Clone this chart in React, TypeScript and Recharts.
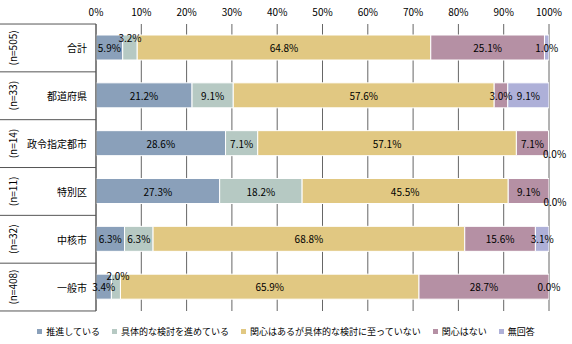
import React from "react";
import { BarChart, Bar, XAxis, YAxis, CartesianGrid, Legend, LabelList } from "recharts";

const categories = ["合計", "都道府県", "政令指定都市", "特別区", "中核市", "一般市"];
const sampleSizes = ["(n=505)", "(n=33)", "(n=14)", "(n=11)", "(n=32)", "(n=408)"];
const seriesNames = [
  "推進している",
  "具体的な検討を進めている",
  "関心はあるが具体的な検討に至っていない",
  "関心はない",
  "無回答",
];
const promoting = [5.9, 21.2, 28.6, 27.3, 6.3, 3.4];
const considering = [3.2, 9.1, 7.1, 18.2, 6.3, 2.0];
const interested = [64.8, 57.6, 57.1, 45.5, 68.8, 65.9];
const notInterested = [25.1, 3.0, 7.1, 9.1, 15.6, 28.7];
const noAnswer = [1.0, 9.1, 0.0, 0.0, 3.1, 0.0];
const xTicks = [0, 10, 20, 30, 40, 50, 60, 70, 80, 90, 100];

const colors = ["#8aa0ba", "#b6c9c3", "#e1c882", "#b590a4", "#aeb0d8"];
const keys = ["s0", "s1", "s2", "s3", "s4"];
const seriesValues = [promoting, considering, interested, notInterested, noAnswer];

const data = categories.map((name, i) => {
  const row: any = { name, n: sampleSizes[i] };
  seriesValues.forEach((vals, s) => {
    row[keys[s]] = vals[i];
  });
  return row;
});

const FONT = "'Noto Sans CJK JP', 'Noto Sans', sans-serif";
const BAND_HALF = 23.9;

// small labels nudged off their segment, as in the original
const labelOffsets: Record<string, [number, number]> = {
  "1-0": [0, -10],
  "1-5": [2, -11],
};

const pct = (v: any) => `${Number(v).toFixed(1)}%`;

const makeLabel = (s: number) => (props: any) => {
  const { x, y, width, height, value, index } = props;
  const [dx, dy] = labelOffsets[`${s}-${index}`] || [0, 0];
  return (
    <text
      x={Number(x) + Number(width) / 2 + dx}
      y={Number(y) + Number(height) / 2 + dy}
      textAnchor="middle"
      dominantBaseline="central"
      fontSize={10}
      fontFamily={FONT}
      fill="#000"
    >
      {pct(value)}
    </text>
  );
};

// zero-width "無回答" bars get no rect, so their 0.0% labels hang off the end of "関心はない"
const ZeroLabel = (props: any) => {
  const { x, y, width, height, value, index } = props;
  if (Number(value) !== 0) return null;
  const end = Number(x) + Number(width);
  const cy = Number(y) + Number(height) / 2;
  const shifted = index !== categories.length - 1;
  return (
    <text
      x={end + (shifted ? 6 : 0)}
      y={cy + (shifted ? 10 : 0)}
      textAnchor="middle"
      dominantBaseline="central"
      fontSize={10}
      fontFamily={FONT}
      fill="#000"
    >
      {pct(value)}
    </text>
  );
};

const CategoryTick = (props: any) => {
  const { y, payload, index } = props;
  const last = index === categories.length - 1;
  return (
    <g>
      <line x1={0} x2={96} y1={y - BAND_HALF} y2={y - BAND_HALF} stroke="#555" />
      {last && <line x1={0} x2={96} y1={y + BAND_HALF} y2={y + BAND_HALF} stroke="#555" />}
      <text x={87} y={y} textAnchor="end" dominantBaseline="central" fontSize={10} fontFamily={FONT} fill="#000">
        {payload.value}
      </text>
      <text
        transform={`translate(12, ${y}) rotate(-90)`}
        textAnchor="middle"
        dominantBaseline="central"
        fontSize={10}
        fontFamily={FONT}
        fill="#000"
      >
        {sampleSizes[index]}
      </text>
    </g>
  );
};

const LegendContent = () => (
  <div style={{ textAlign: "center", fontSize: 9, fontFamily: FONT, lineHeight: "14px", color: "#000" }}>
    {seriesNames.map((name, s) => (
      <span key={name} style={{ marginRight: s === seriesNames.length - 1 ? 0 : 12, whiteSpace: "nowrap" }}>
        <span
          style={{
            display: "inline-block",
            width: 5,
            height: 5,
            background: colors[s],
            marginRight: 4,
            verticalAlign: "middle",
            position: "relative",
            top: -1,
          }}
        />
        {name}
      </span>
    ))}
  </div>
);

export default function App() {
  return (
    <div style={{ position: "absolute", left: 0, top: 0, width: 572, height: 344, background: "#fff" }}>
      <BarChart
        width={572}
        height={344}
        data={data}
        layout="vertical"
        margin={{ top: 0, right: 23, left: 0, bottom: 19 }}
      >
        <CartesianGrid horizontal={false} vertical={true} stroke="#666" strokeDasharray="" />
        <XAxis
          type="number"
          orientation="top"
          domain={[0, 100]}
          ticks={xTicks}
          allowDataOverflow
          height={24}
          axisLine={false}
          tickLine={false}
          tickFormatter={(v: number) => `${v}%`}
          tick={{ fontSize: 10, fill: "#000", fontFamily: FONT }}
        />
        <YAxis
          type="category"
          dataKey="name"
          width={96}
          axisLine={{ stroke: "#555" }}
          tickLine={false}
          tick={<CategoryTick />}
          interval={0}
        />
        <Legend
          verticalAlign="bottom"
          content={<LegendContent />}
          wrapperStyle={{ top: 325, left: 0, width: 572 }}
        />
        {keys.map((k, s) => (
          <Bar
            key={k}
            dataKey={k}
            name={seriesNames[s]}
            stackId="a"
            fill={colors[s]}
            stroke="#fff"
            strokeWidth={1}
            barSize={25}
            isAnimationActive={false}
          >
            <LabelList dataKey={k} content={makeLabel(s)} />
            {s === 3 && <LabelList dataKey="s4" content={<ZeroLabel />} />}
          </Bar>
        ))}
      </BarChart>
    </div>
  );
}
